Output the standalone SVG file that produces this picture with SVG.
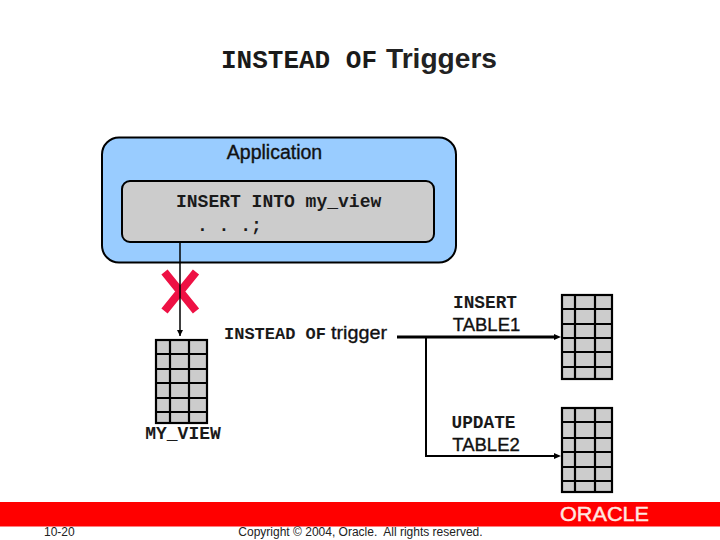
<svg xmlns="http://www.w3.org/2000/svg" width="720" height="540" viewBox="0 0 720 540">
<style>
.m{font-family:"Liberation Mono","Courier New",monospace;font-weight:bold;fill:#1a1a1a}
.s{font-family:"Liberation Sans",Arial,sans-serif;fill:#111;stroke:#111;stroke-width:.35}
.f{font-family:"Liberation Sans",Arial,sans-serif;fill:#222}
.grid{fill:#ccc;stroke:#000;stroke-width:2.200}
.gl{stroke:#000;stroke-width:2.200;fill:none}
.c{stroke:#000;fill:none}
</style>
<defs>
<marker id="a" markerUnits="userSpaceOnUse" markerWidth="8" markerHeight="8" refX="6" refY="3" orient="auto"><path d="M0 0L6 3L0 6Z" fill="#000"/></marker>
</defs>
<rect width="720" height="540" fill="#fff"/>
<g id="title">
<text x="221" y="68" class="m" font-size="26">INSTEAD OF</text>
<text x="386" y="68" class="f" font-size="27" font-weight="bold" textLength="111" lengthAdjust="spacingAndGlyphs">Triggers</text>
</g>
<g id="application">
<rect x="102" y="137.500" width="354" height="125" rx="17" fill="#99ccff" stroke="#000" stroke-width="2"/>
<text x="274.500" y="159" class="s" font-size="19.500" text-anchor="middle">Application</text>
</g>
<g id="statement">
<rect x="122" y="181" width="312" height="61" rx="8" fill="#ccc" stroke="#000" stroke-width="2"/>
<text x="176" y="207" class="m" font-size="18">INSERT INTO my_view</text>
<text x="197" y="231" class="m" font-size="18" xml:space="preserve">. . .;</text>
</g>
<g id="blocked">
<path d="M164.500 272L196 311M196 272L164.500 311" stroke="#ee1144" stroke-width="8" fill="none"/>
</g>
<g id="connectors">
<path class="c" stroke-width="1.500" d="M180 242V336" marker-end="url(#a)"/>
<path class="c" stroke-width="3" d="M397 337H556"/>
<path d="M554 334L561 337L554 340Z" fill="#000"/>
<path class="c" stroke-width="2" d="M426 337V456H556"/>
<path d="M554 453L561 456L554 459Z" fill="#000"/>
</g>
<g id="my-view">
<rect class="grid" x="156" y="340" width="51" height="83"/>
<path class="gl" d="M170 340V423M189 340V423M156 354H207M156 369H207M156 383H207M156 398H207M156 412H207"/>
<text x="183" y="439" class="m" font-size="18" text-anchor="middle">MY_VIEW</text>
</g>
<g id="trigger">
<text x="224" y="339" class="m" font-size="17">INSTEAD OF</text>
<text x="331" y="339" class="s" font-size="19" textLength="56" lengthAdjust="spacingAndGlyphs">trigger</text>
</g>
<g id="table1">
<text x="485" y="308" class="m" font-size="17.800" text-anchor="middle">INSERT</text>
<text x="486.500" y="331" class="s" font-size="18.500" text-anchor="middle">TABLE1</text>
<rect class="grid" x="562" y="295" width="50" height="84"/>
<path class="gl" d="M575 295V379M595 295V379M562 309H612M562 324H612M562 338H612M562 352H612M562 367H612"/>
</g>
<g id="table2">
<text x="483.500" y="428" class="m" font-size="17.800" text-anchor="middle">UPDATE</text>
<text x="486" y="451" class="s" font-size="18.500" text-anchor="middle">TABLE2</text>
<rect class="grid" x="562" y="408" width="50" height="84"/>
<path class="gl" d="M575 408V492M595 408V492M562 422H612M562 438H612M562 452H612M562 467H612M562 481H612"/>
</g>
<g id="footer">
<rect x="0" y="502" width="720" height="24.500" fill="#ff0000"/>
<text x="560" y="521" class="f" font-size="19.500" style="fill:#ffe8e0;stroke:#ffe8e0;stroke-width:.4" textLength="89" lengthAdjust="spacingAndGlyphs">ORACLE</text>
<text x="44" y="536" class="f" font-size="12">10-20</text>
<text x="360.500" y="536" class="f" font-size="12" text-anchor="middle" xml:space="preserve">Copyright © 2004, Oracle.  All rights reserved.</text>
</g>
</svg>
